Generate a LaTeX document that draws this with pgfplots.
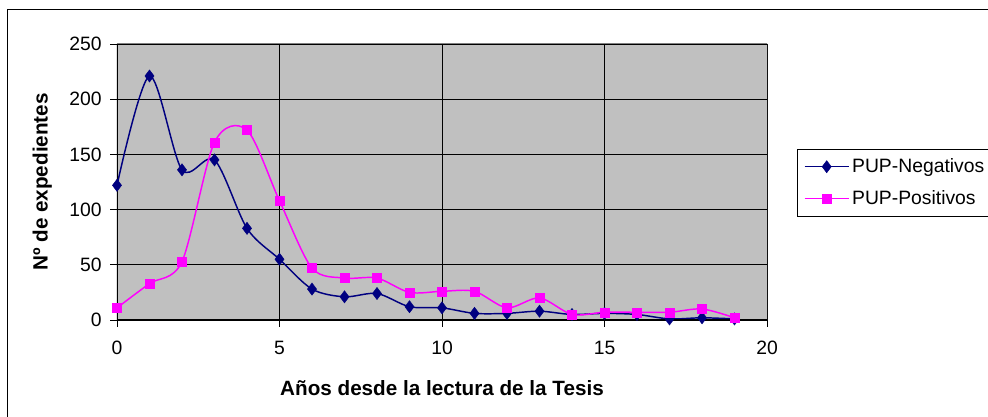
\documentclass[border=0pt]{standalone}
\usepackage{pgfplots}
\pgfplotsset{compat=1.18}
\usepackage{fontspec}
\setmainfont{Liberation Sans}
\definecolor{navyc}{HTML}{000080}
\definecolor{magc}{HTML}{FF00FF}
\definecolor{plotbg}{HTML}{C0C0C0}
\begin{document}
\begin{tikzpicture}
\path[use as bounding box] (-87.75pt,-72.75pt) rectangle (653.25pt,240pt);
\draw[black, line width=0.75pt] (-81.75pt,-90pt) rectangle (670pt,232.5pt);
\begin{axis}[
  scale only axis,
  width=487.5pt, height=207pt,
  xmin=0, xmax=20, ymin=0, ymax=250,
  xtick={0,5,10,15,20}, ytick={0,50,100,150,200,250},
  xtick pos=bottom, ytick pos=left,
  tick align=outside,
  major tick length=5pt,
  tick style={black, line width=0.6pt},
  grid=major,
  major grid style={black, line width=0.6pt},
  axis background/.style={fill=plotbg},
  axis line style={draw=none},
  /pgf/number format/assume math mode=true,
  ticklabel style={font=\fontsize{14.5}{17}\selectfont},
  x tick label style={anchor=base, yshift=-21pt},
  y tick label style={anchor=east, xshift=-3pt},
  every axis x label/.style={at={(rel axis cs:0.5,0)}, anchor=center, yshift=-51pt},
  every axis y label/.style={at={(rel axis cs:0,0.5)}, anchor=center, rotate=90, yshift=56pt},
  label style={font=\fontsize{15.5}{18}\selectfont\bfseries},
  xlabel={Años desde la lectura de la Tesis},
  ylabel={Nº de expedientes},
  legend style={at={(1.046,0.6196)}, anchor=north west, draw=black, line width=0.6pt, fill=white,
    font=\fontsize{14.5}{17}\selectfont, cells={anchor=west}, row sep=8pt,
    inner xsep=5pt, inner ysep=5pt},
  legend image code/.code={\draw[mark repeat=2,mark phase=2] plot coordinates {(0pt,0pt)(16.5pt,0pt)(33pt,0pt)};},
]
\addplot[navyc, line width=1.1pt, smooth, tension=0.5, mark=diamond*, mark size=4.6pt, mark options={fill=navyc, draw=navyc, line width=0.3pt}]
coordinates {(0,122)(1,221)(2,136)(3,145)(4,83)(5,55)(6,28)(7,21)(8,24)(9,12)(10,11)(11,6)(12,6)(13,8)(14,5)(15,6)(16,5)(17,1)(18,2)(19,1)};
\addlegendentry{PUP-Negativos}
\addplot[magc, line width=1.1pt, smooth, tension=0.5, mark=square*, mark size=3.4pt, mark options={fill=magc, draw=magc, line width=0.3pt}]
coordinates {(0,11)(1,33)(2,53)(3,161)(4,172)(5,108)(6,47)(7,38)(8,38)(9,25)(10,26)(11,26)(12,11)(13,20)(14,5)(15,7)(16,7)(17,7)(18,10)(19,2)};
\addlegendentry{PUP-Positivos}
\draw[gray, line width=0.75pt] (rel axis cs:0,1) -- (rel axis cs:1,1) -- (rel axis cs:1,0);
\draw[black, line width=0.75pt] (rel axis cs:0,1) -- (rel axis cs:0,0) -- (rel axis cs:1,0);
\end{axis}
\end{tikzpicture}
\end{document}
